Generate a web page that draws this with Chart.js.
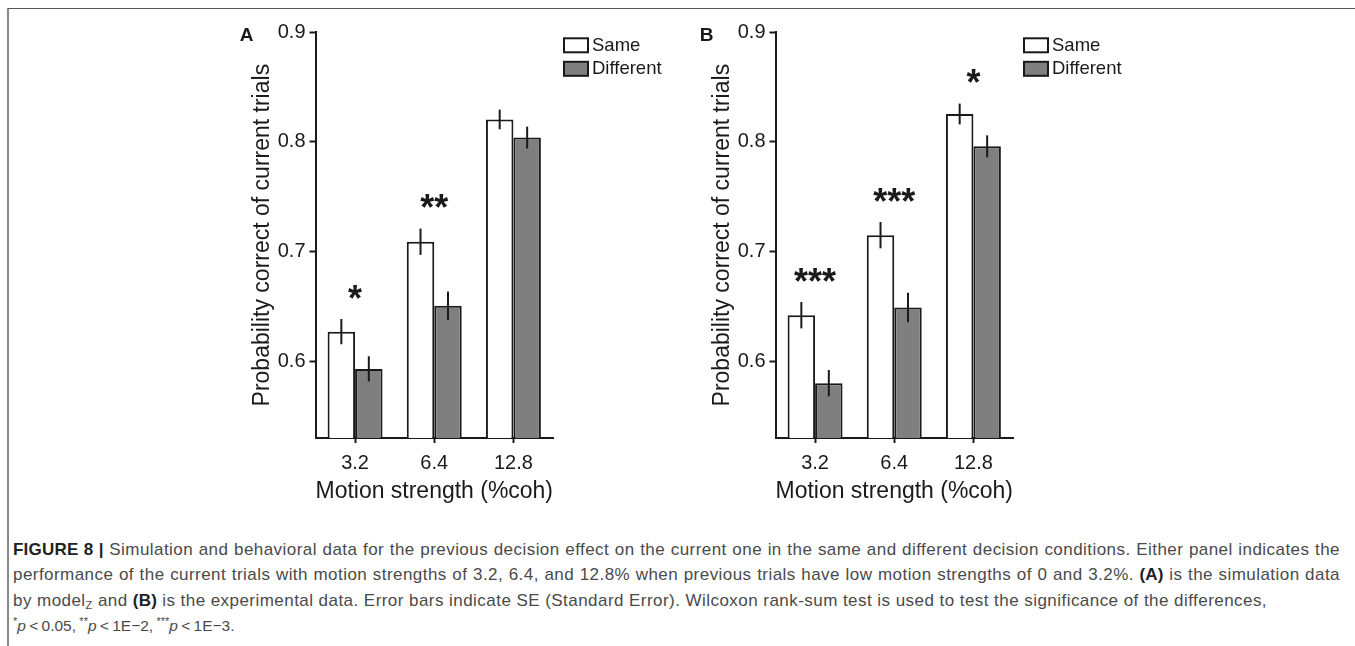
<!DOCTYPE html>
<html>
<head>
<meta charset="utf-8">
<script src="https://cdn.jsdelivr.net/npm/chart.js@4.4.1/dist/chart.umd.min.js"></script>
<style>
  body { margin: 0; width: 1355px; height: 646px; background: #fff; position: relative; overflow: hidden; font-family: "Liberation Sans", Arial, sans-serif; }
  #frame { position: absolute; left: 7px; top: 8px; width: 1360px; height: 650px; border-top: 1px solid #555; border-left: 2px solid #888; }
  .panel { position: absolute; top: 0; }
  #panelA { left: 230px; }
  #panelB { left: 689.5px; }
  #caption { position: absolute; left: 13px; top: 537px; width: 1327px; font-size: 17px; line-height: 25.3px; color: #4a4a4a; letter-spacing: 0.45px; }
  #caption b { color: #222; letter-spacing: 0.2px; }
  #caption .line { white-space: nowrap; }
  #caption .just { text-align: justify; text-align-last: justify; }
  #caption .short { font-size: 15.5px; word-spacing: -1px; letter-spacing: 0; }
  #caption sub { font-size: 11px; vertical-align: -3px; line-height: 0; }
  #caption sup { font-size: 11px; vertical-align: 6px; line-height: 0; }
</style>
</head>
<body>
<div id="frame"></div>
<canvas id="panelA" class="panel" width="440" height="520"></canvas>
<canvas id="panelB" class="panel" width="440" height="520"></canvas>
<div id="caption">
  <div class="line just"><b>FIGURE 8 |</b> Simulation and behavioral data for the previous decision effect on the current one in the same and different decision conditions. Either panel indicates the</div>
  <div class="line just">performance of the current trials with motion strengths of 3.2, 6.4, and 12.8% when previous trials have low motion strengths of 0 and 3.2%. <b>(A)</b> is the simulation data</div>
  <div class="line">by model<sub>Z</sub> and <b>(B)</b> is the experimental data. Error bars indicate SE (Standard Error). Wilcoxon rank-sum test is used to test the significance of the differences,</div>
  <div class="line short"><sup>*</sup><i>p</i> &lt; 0.05, <sup>**</sup><i>p</i> &lt; 1E−2, <sup>***</sup><i>p</i> &lt; 1E−3.</div>
</div>
<script>
// data
const categories = ["3.2", "6.4", "12.8"];
const yTicks = [0.6, 0.7, 0.8, 0.9];
const seriesLabels = ["Same", "Different"];

const sameA = [0.627, 0.709, 0.8205];
const diffA = [0.593, 0.6505, 0.804];
const sameErrA = [0.0115, 0.012, 0.009];
const diffErrA = [0.0115, 0.013, 0.010];
const starsA = ["*", "**", ""];

const sameB = [0.642, 0.715, 0.8255];
const diffB = [0.580, 0.649, 0.796];
const sameErrB = [0.012, 0.012, 0.0095];
const diffErrB = [0.012, 0.0135, 0.010];
const starsB = ["***", "***", "*"];

const FONT = "'Liberation Sans', Arial, sans-serif";
const INK = "#1a1a1a";

const extras = {
  id: "extras",
  afterDatasetsDraw(chart, args, opts) {
    const ctx = chart.ctx;
    const y = chart.scales.y;
    const x = chart.scales.x;
    const area = chart.chartArea;
    ctx.save();

    // error bars
    ctx.strokeStyle = INK;
    ctx.lineWidth = 2;
    chart.data.datasets.forEach((ds, i) => {
      chart.getDatasetMeta(i).data.forEach((bar, j) => {
        const v = ds.data[j], e = ds.errors[j];
        ctx.beginPath();
        ctx.moveTo(bar.x, y.getPixelForValue(v + e));
        ctx.lineTo(bar.x, y.getPixelForValue(v - e));
        ctx.stroke();
      });
    });

    // significance stars, 29px above the highest error bar
    ctx.fillStyle = INK;
    ctx.font = "bold 36px " + FONT;
    ctx.textAlign = "center";
    ctx.textBaseline = "alphabetic";
    opts.stars.forEach((s, j) => {
      if (!s) return;
      let top = Infinity;
      chart.data.datasets.forEach(ds => {
        top = Math.min(top, y.getPixelForValue(ds.data[j] + ds.errors[j]));
      });
      ctx.fillText(s, x.getPixelForValue(j), top - 29 + 0.575 * 36);
    });

    // legend
    const lx = area.right + 10;
    ctx.font = "18.5px " + FONT;
    ctx.textAlign = "left";
    ctx.textBaseline = "middle";
    chart.data.datasets.forEach((ds, i) => {
      const by = area.top + 5 + i * 23.5;
      ctx.fillStyle = ds.backgroundColor;
      ctx.fillRect(lx + 1, by + 1, 24, 14);
      ctx.strokeRect(lx + 1, by + 1, 24, 14);
      ctx.fillStyle = INK;
      ctx.fillText(ds.label, lx + 29, by + 8.5);
    });

    // panel letter
    ctx.font = "bold 19px " + FONT;
    ctx.textAlign = "center";
    ctx.fillText(opts.letter, area.left - 69, area.top + 3);
    ctx.restore();
  }
};

function makePanel(id, letter, same, diff, sameErr, diffErr, stars) {
  return new Chart(document.getElementById(id), {
    type: "bar",
    data: {
      labels: categories,
      datasets: [
        {
          label: seriesLabels[0],
          data: same,
          errors: sameErr,
          backgroundColor: "#ffffff",
          borderColor: INK,
          borderWidth: 2,
        },
        {
          label: seriesLabels[1],
          data: diff,
          errors: diffErr,
          backgroundColor: "#7f7f7f",
          borderColor: INK,
          borderWidth: 2,
        },
      ],
    },
    options: {
      responsive: false,
      animation: false,
      devicePixelRatio: 1,
      categoryPercentage: 0.694,
      barPercentage: 1,
      layout: { padding: { left: 0, right: 117, top: 32.3, bottom: 0 } },
      plugins: {
        legend: { display: false },
        tooltip: { enabled: false },
        extras: { letter: letter, stars: stars },
      },
      scales: {
        x: {
          grid: { offset: false, drawOnChartArea: false, drawTicks: true, tickLength: 5, tickColor: INK, tickWidth: 2 },
          border: { display: true, color: INK, width: 2 },
          ticks: { color: INK, padding: 8, font: { family: FONT, size: 20 } },
          title: {
            display: true,
            text: "Motion strength (%coh)",
            color: INK,
            font: { family: FONT, size: 23 },
            padding: { top: 0, bottom: 14.5 },
          },
          afterFit: (scale) => { scale.height = 82; },
        },
        y: {
          min: 0.53,
          max: 0.9,
          afterBuildTicks: (axis) => { axis.ticks = yTicks.map(v => ({ value: v })); },
          grid: { drawOnChartArea: false, drawTicks: true, tickLength: 6, tickColor: INK, tickWidth: 2 },
          border: { display: true, color: INK, width: 2 },
          ticks: {
            color: INK,
            padding: 4,
            font: { family: FONT, size: 20 },
            callback: (v) => Number(v).toFixed(1),
          },
          title: {
            display: true,
            text: "Probability correct of current trials",
            color: INK,
            font: { family: FONT, size: 23 },
            padding: { top: 19, bottom: 0 },
          },
          afterFit: (scale) => { scale.width = 85.5; },
        },
      },
    },
    plugins: [extras],
  });
}

makePanel("panelA", "A", sameA, diffA, sameErrA, diffErrA, starsA);
makePanel("panelB", "B", sameB, diffB, sameErrB, diffErrB, starsB);
</script>
</body>
</html>
